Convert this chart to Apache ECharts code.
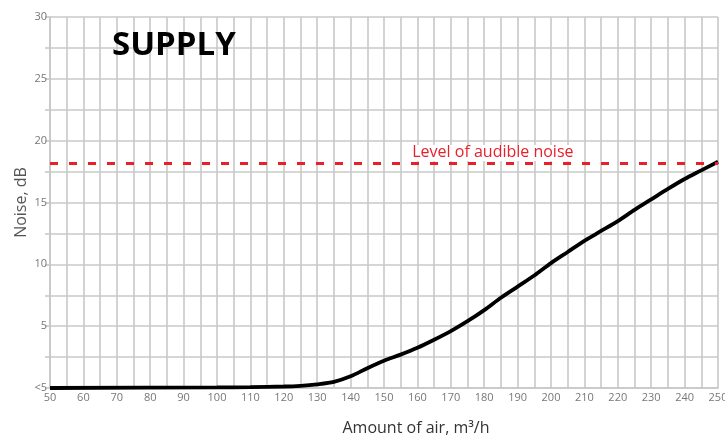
<!DOCTYPE html>
<html>
<head>
<meta charset="utf-8">
<script src="https://cdn.jsdelivr.net/npm/echarts@6/dist/echarts.min.js"></script>
<style>
  html, body { margin: 0; padding: 0; background: #fff; }
  #chart { width: 725px; height: 439px; }
</style>
</head>
<body>
<div id="chart"></div>
<script>
// airflow, m3/h
const airflow = [50, 100, 110, 120, 125, 130, 135, 140, 145, 150, 155, 160, 165, 170, 175,
  180, 185, 190, 195, 200, 205, 210, 215, 220, 225, 230, 235, 240, 245, 250];
// noise, dB (0 means "<5")
const noise = [0, 0.05, 0.07, 0.12, 0.18, 0.3, 0.5, 0.95, 1.6, 2.2, 2.7, 3.25, 3.9, 4.6, 5.4,
  6.3, 7.3, 8.2, 9.1, 10.1, 11.0, 11.9, 12.7, 13.5, 14.4, 15.25, 16.1, 16.9, 17.6, 18.3];
const audibleLevel = 18.2;
const audibleLabel = 'Level of audible noise';
const audibleLabelAt = 182.6;

const chart = echarts.init(document.getElementById('chart'));

const gridColor = '#c8c8c8';
const font = '"Open Sans", sans-serif';

const option = {
  animation: false,
  textStyle: { fontFamily: font },
  title: {
    text: 'SUPPLY',
    left: 107,
    top: 24,
    textStyle: { fontSize: 33, fontWeight: 'bold', color: '#000', fontFamily: font }
  },
  grid: { left: 50, right: 7, top: 17, bottom: 51, containLabel: false, outerBoundsMode: 'none' },
  xAxis: {
    type: 'value',
    min: 50,
    max: 250,
    interval: 5,
    name: 'Amount of air, m³/h',
    nameLocation: 'middle',
    nameGap: 32,
    nameMoveOverlap: false,
    nameTextStyle: { fontSize: 16, color: '#333', padding: [0, 0, 0, 64] },
    axisLine: { lineStyle: { color: gridColor, width: 1.6 } },
    axisTick: { show: false },
    axisLabel: {
      color: '#777',
      fontSize: 11,
      margin: 4,
      hideOverlap: false,
      formatter: v => (v % 10 === 0 ? String(v) : '')
    },
    splitLine: { lineStyle: { color: gridColor, width: 1.6 } }
  },
  yAxis: {
    type: 'value',
    min: 0,
    max: 30,
    interval: 2.5,
    name: 'Noise, dB',
    nameLocation: 'middle',
    nameGap: 21,
    nameMoveOverlap: false,
    nameTextStyle: { fontSize: 16, color: '#555' },
    axisLine: { show: true, lineStyle: { color: gridColor, width: 1.6 } },
    axisTick: { show: true, length: 5, lineStyle: { color: gridColor, width: 1.6 } },
    axisLabel: {
      color: '#777',
      fontSize: 11,
      margin: 3,
      formatter: v => (v === 0 ? '<5' : (v % 5 === 0 ? String(v) : ''))
    },
    splitLine: { lineStyle: { color: gridColor, width: 1.6 } }
  },
  series: [
    {
      type: 'line',
      data: airflow.map((x, i) => [x, noise[i]]),
      smooth: 0.3,
      showSymbol: false,
      lineStyle: { color: '#000', width: 3.8 },
      z: 3,
      markLine: {
        silent: true,
        symbol: 'none',
        label: { show: false },
        lineStyle: { color: '#e8202c', width: 3, type: [8, 11] },
        data: [{ yAxis: audibleLevel }]
      },
      markPoint: {
        silent: true,
        symbol: 'rect',
        symbolSize: 0,
        label: {
          show: true,
          position: 'top',
          distance: 2,
          formatter: audibleLabel,
          color: '#e8202c',
          fontSize: 16,
          fontFamily: font,
          backgroundColor: '#fff',
          padding: [0, 3]
        },
        data: [{ coord: [audibleLabelAt, audibleLevel] }]
      }
    }
  ]
};

chart.setOption(option);
window.addEventListener('resize', () => chart.resize());
</script>
</body>
</html>
